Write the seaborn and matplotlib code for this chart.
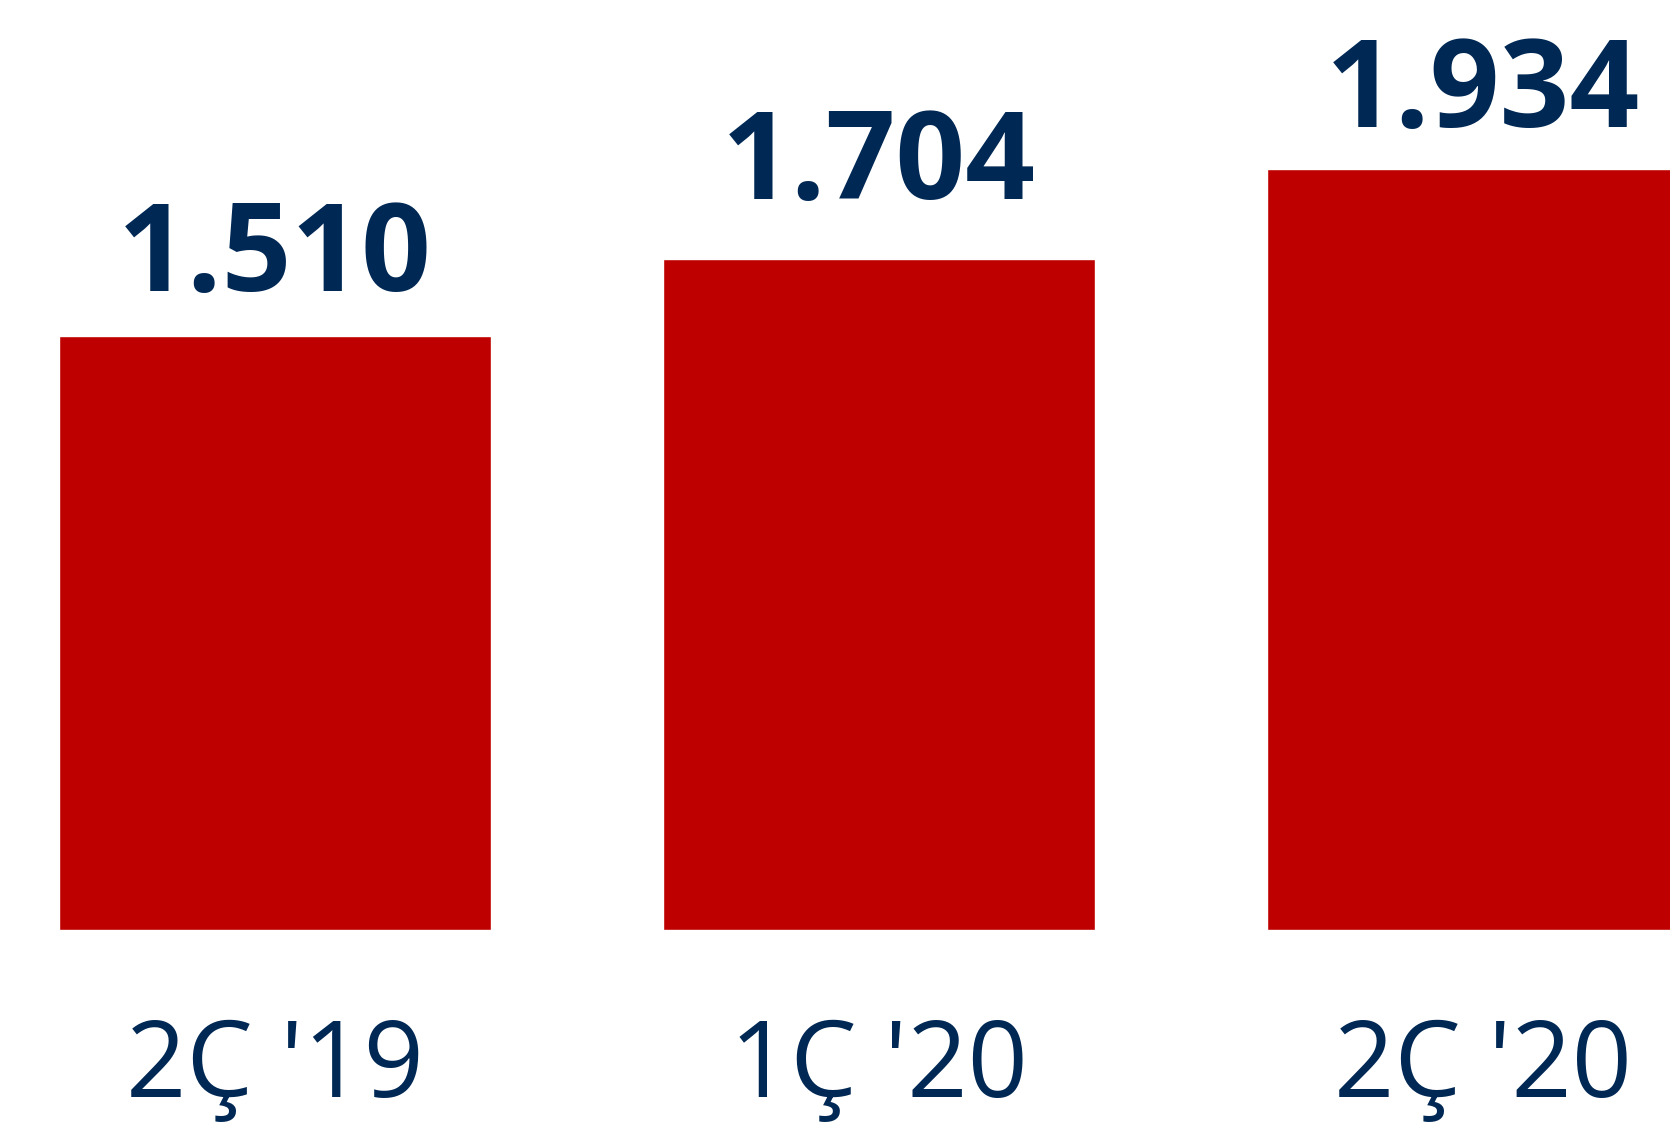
import pandas as pd
import matplotlib
matplotlib.use("Agg")
import matplotlib.pyplot as plt
import seaborn as sns

# data
categories = ["2Ç '19", "1Ç '20", "2Ç '20"]
values = [1.510, 1.704, 1.934]
value_labels = ["1.510", "1.704", "1.934"]
label_gap = [0.114, 0.154, 0.106]

BAR_RED = "#BE0000"
NAVY = "#002855"

df = pd.DataFrame({"period": categories, "value": values})

sns.set_style("white")
plt.rcParams["font.family"] = ["Open Sans", "DejaVu Sans"]

fig = plt.figure(figsize=(16.7, 11.28), dpi=100)
ax = fig.add_axes([0, 0, 1, 1])

sns.barplot(data=df, x="period", y="value", color=BAR_RED, width=0.716,
            saturation=1, ax=ax)

# value labels above bars
for i, (v, lab) in enumerate(zip(values, value_labels)):
    ax.text(i, v + label_gap[i], lab, ha="center", va="baseline",
            fontsize=88, fontweight="bold", color=NAVY)

# category labels below bars
for i, cat in enumerate(categories):
    ax.text(i, -0.425, cat, ha="center", va="baseline",
            fontsize=76, color=NAVY)

ax.set_xlim(-0.455, 2.310)
ax.set_ylim(-0.5035, 2.363)
ax.axis("off")

plt.savefig("out.png", dpi=100)
